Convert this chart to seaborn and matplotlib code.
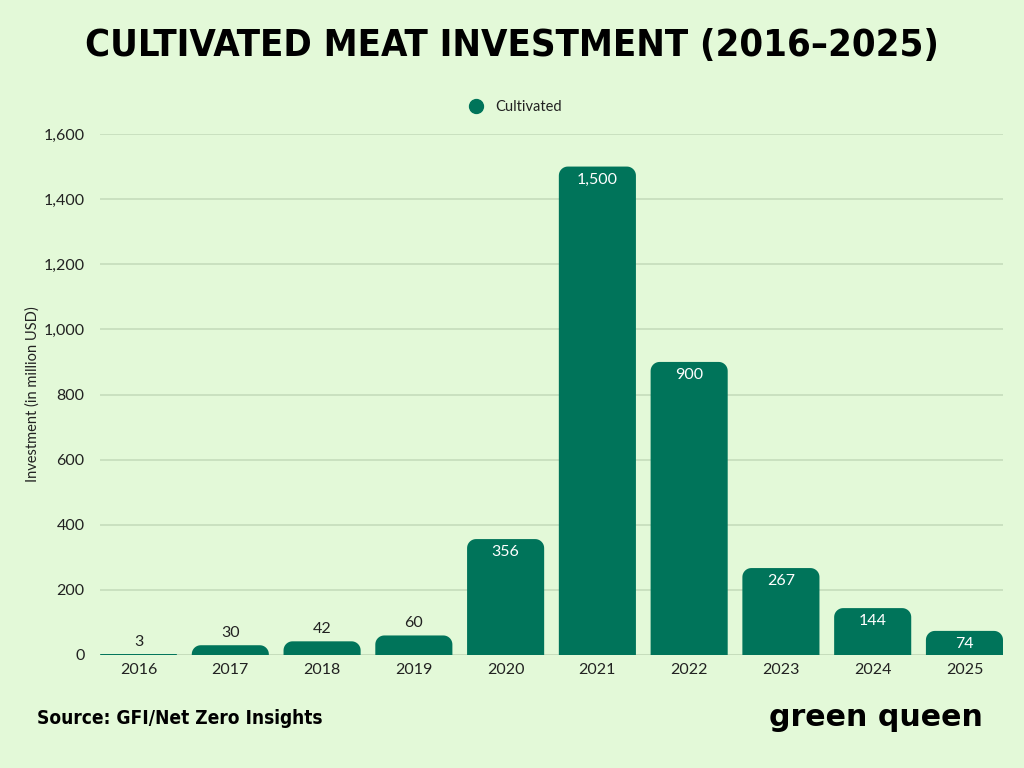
import numpy as np
import pandas as pd
import matplotlib
matplotlib.use("Agg")
import matplotlib.pyplot as plt
import seaborn as sns
from matplotlib.path import Path
from matplotlib.patches import PathPatch
from matplotlib.lines import Line2D
from matplotlib.ticker import FuncFormatter
from matplotlib import font_manager

years = ["2016", "2017", "2018", "2019", "2020", "2021", "2022", "2023", "2024", "2025"]
investment = [3, 30, 42, 60, 356, 1500, 900, 267, 144, 74]
series_name = "Cultivated"
title = "CULTIVATED MEAT INVESTMENT (2016–2025)"
ylabel = "Investment (in million USD)"
source = "Source: GFI/Net Zero Insights"
brand = "green queen"

BG = "#E3F9D8"
BAR = "#00745A"
GRID = "#C6DDBC"
TXT = "#222222"

df = pd.DataFrame({"year": years, "value": investment})

sns.set_theme(style="white")
plt.rcParams["font.family"] = ["Lato", "DejaVu Sans"]

# look for a condensed bold face if one is installed
cond_family = None
for f in font_manager.fontManager.ttflist:
    nm = (f.fname or "").lower()
    if ("condensed" in nm or "narrow" in nm) and ("bold" in nm) and "oblique" not in nm and "italic" not in nm:
        cond_family = f
        break
if cond_family is not None:
    cond_props = dict(fontproperties=font_manager.FontProperties(fname=cond_family.fname))
else:
    cond_props = dict(family=["DejaVu Sans"], fontweight="bold")

fig = plt.figure(figsize=(10.24, 7.68), dpi=100, facecolor=BG)
ax = fig.add_axes([100 / 1024, 1 - 655 / 768, 903 / 1024, (655 - 134) / 768])
ax.set_facecolor(BG)

sns.barplot(data=df, x="year", y="value", color=BAR, width=0.84, ax=ax,
            saturation=1, zorder=3)

ax.set_xlim(-0.42, 9.42)
ax.set_ylim(0, 1600)
ax.set_yticks(np.arange(0, 1601, 200))
ax.yaxis.set_major_formatter(FuncFormatter(lambda v, p: f"{int(v):,}"))
ax.grid(axis="y", color=GRID, linewidth=1.2, zorder=0)
ax.grid(axis="x", visible=False)
for s in ax.spines.values():
    s.set_visible(False)
ax.axhline(0, color=GRID, linewidth=1.2, zorder=1)
ax.tick_params(axis="both", length=0, labelsize=11.5, colors=TXT, pad=6)
ax.tick_params(axis="y", pad=11)
ax.set_xlabel("")
ax.set_ylabel(ylabel, fontsize=10.5, color=TXT, labelpad=3)

# rounded top corners
fig.canvas.draw()
px_x = 903 / (ax.get_xlim()[1] - ax.get_xlim()[0])
px_y = (655 - 134) / 1600.0
patches = list(ax.patches)
for p in patches:
    x0, y0 = p.get_x(), p.get_y()
    w, h = p.get_width(), p.get_height()
    hp = h * px_y
    r = min(9.0, hp, w * px_x / 2)
    rx, ry = r / px_x, r / px_y
    t = np.linspace(0, np.pi / 2, 12)
    verts = [(x0, y0), (x0 + w, y0)]
    cx, cy = x0 + w - rx, y0 + h - ry
    for a in t:
        verts.append((cx + rx * np.cos(a), cy + ry * np.sin(a)))
    cx = x0 + rx
    for a in t:
        verts.append((cx - rx * np.sin(a), cy + ry * np.cos(a)))
    verts.append((x0, y0))
    codes = [Path.MOVETO] + [Path.LINETO] * (len(verts) - 2) + [Path.CLOSEPOLY]
    pp = PathPatch(Path(verts, codes), facecolor=BAR, edgecolor="none", zorder=3)
    ax.add_patch(pp)
    p.remove()

# value labels
for i, v in enumerate(investment):
    if v * px_y > 22:
        ax.annotate(f"{v:,}", (i, v), xytext=(0, -9.5), textcoords="offset points",
                    ha="center", va="center", color="white", fontsize=11.5)
    else:
        ax.annotate(f"{v:,}", (i, v), xytext=(0, 9), textcoords="offset points",
                    ha="center", va="center", color=TXT, fontsize=11.5)

# legend
handle = Line2D([], [], marker="o", linestyle="none", markersize=10,
                markerfacecolor=BAR, markeredgecolor=BAR)
fig.legend([handle], [series_name], loc="center", bbox_to_anchor=(512 / 1024, 1 - 107 / 768),
           frameon=False, fontsize=10.5, handletextpad=0.3, labelcolor=TXT)


def fit_width(txt, target_px, fs):
    r = fig.canvas.get_renderer()
    bb = txt.get_window_extent(r)
    txt.set_fontsize(fs * target_px / bb.width)


t1 = fig.text(512 / 1024, 1 - 46 / 768, title, ha="center", va="center",
              fontsize=32, color="black", **cond_props)
fit_width(t1, 855, 32)
t2 = fig.text(37 / 1024, 1 - 718 / 768, source, ha="left", va="center",
              fontsize=15, color="black", **cond_props)
fit_width(t2, 286, 15)
t3 = fig.text(983 / 1024, 1 - 718 / 768, brand, ha="right", va="center",
              fontsize=19, fontweight="bold", color="black", family=["DejaVu Sans"])
fit_width(t3, 213, 19)

fig.savefig("out.png", dpi=100, facecolor=BG)
